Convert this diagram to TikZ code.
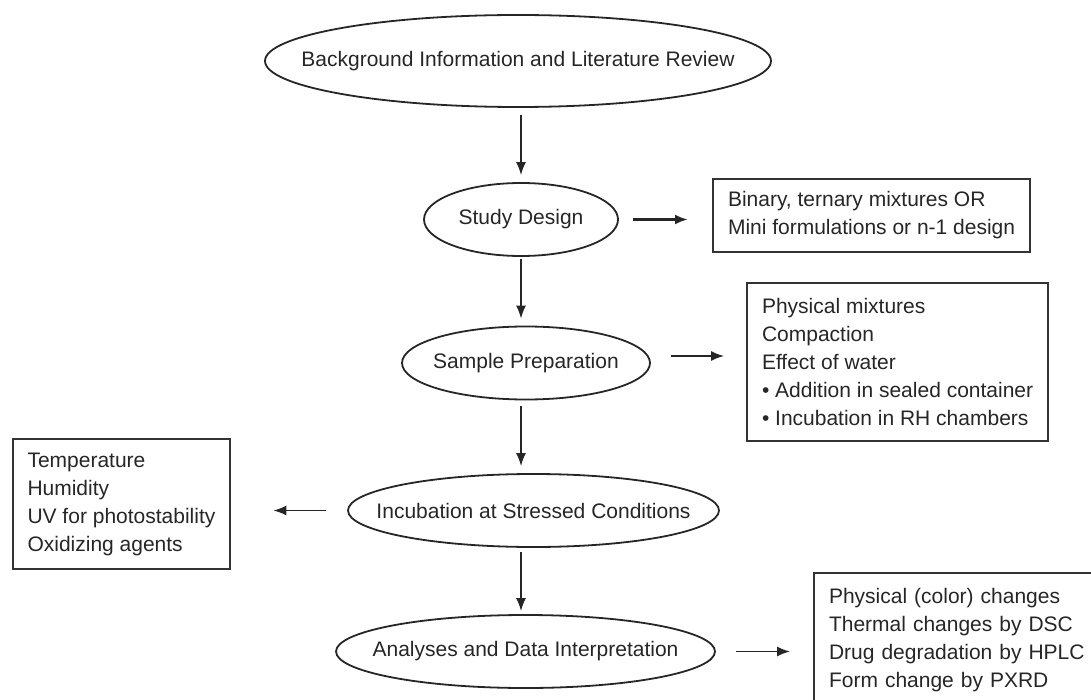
\documentclass[tikz,border=0pt]{standalone}
\usepackage{fontspec}
\setmainfont{Liberation Sans}
\usetikzlibrary{shapes,arrows.meta}

\begin{document}
\begin{tikzpicture}[x=1pt,y=-1pt,
	step_node/.style={ellipse,draw=black!85,line width=1.8pt,inner sep=0pt},
	info_box/.style={rectangle,draw=black!80,line width=2pt,anchor=west,align=left,inner xsep=15pt,inner ysep=0pt,text=black!85,font=\fontsize{21}{28}\selectfont},
	flow_arrow/.style={-{Latex[length=13pt,width=10pt]},line width=1.5pt,color=black!85},
	every label/.style={text=black!85,font=\fontsize{21}{28}\selectfont}]
				\useasboundingbox (0,0) rectangle (1091,700);
				\coordinate (axis) at (521,0);
				\node[step_node,minimum width=506pt,minimum height=92pt,label=center:{Background Information and Literature Review}](1) at (518,61){};
				\node[step_node,minimum width=194pt,minimum height=73pt,label=center:{Study Design}](2) at (521,219.5){};
				\node[step_node,minimum width=248pt,minimum height=73pt,label=center:{Sample Preparation}](3) at (526,363){};
				\node[step_node,minimum width=371pt,minimum height=73pt,label=center:{Incubation at Stressed Conditions}](4) at (533.5,510.5){};
				\node[step_node,minimum width=379pt,minimum height=73pt,label=center:{Analyses and Data Interpretation}](5) at (525.5,651.5){};
				\node[info_box,minimum height=73pt](b1) at (712,215.5){Binary, ternary mixtures OR\\Mini formulations or n-1 design};
				\node[info_box,minimum height=158pt](b2) at (746,362){Physical mixtures\\Compaction\\Effect of water\\\textbullet\ Addition in sealed container\\\textbullet\ Incubation in RH chambers};
				\node[info_box,minimum height=130pt](b3) at (11.5,504){Temperature\\Humidity\\UV for photostability\\Oxidizing agents};
				\node[info_box,text width=265pt,minimum height=134pt](b4) at (813,640){Physical (color) changes\\Thermal changes by DSC\\Drug degradation by HPLC\\Form change by PXRD};
				\path[flow_arrow]
				(axis |- 1.south) edge[shorten <=7pt,shorten >=7pt] (axis |- 2.north)
				(axis |- 2.south) edge[shorten <=2pt,shorten >=7pt] (axis |- 3.north)
				(axis |- 3.south) edge[shorten <=6pt,shorten >=7pt] (axis |- 4.north)
				(axis |- 4.south) edge[shorten <=4pt,shorten >=3pt] (axis |- 5.north)
				(2.east) edge[line width=3pt,shorten <=14pt,shorten >=24pt] (2.east -| b1.west)
				([yshift=7pt]3.east) edge[shorten <=20pt,shorten >=22pt] ([yshift=7pt]3.east -| b2.west)
				(4.west) edge[shorten <=21pt,shorten >=42pt] (4.west -| b3.east)
				(5.east) edge[shorten <=20pt,shorten >=23pt] (5.east -| b4.west);
			\end{tikzpicture}
\end{document}
